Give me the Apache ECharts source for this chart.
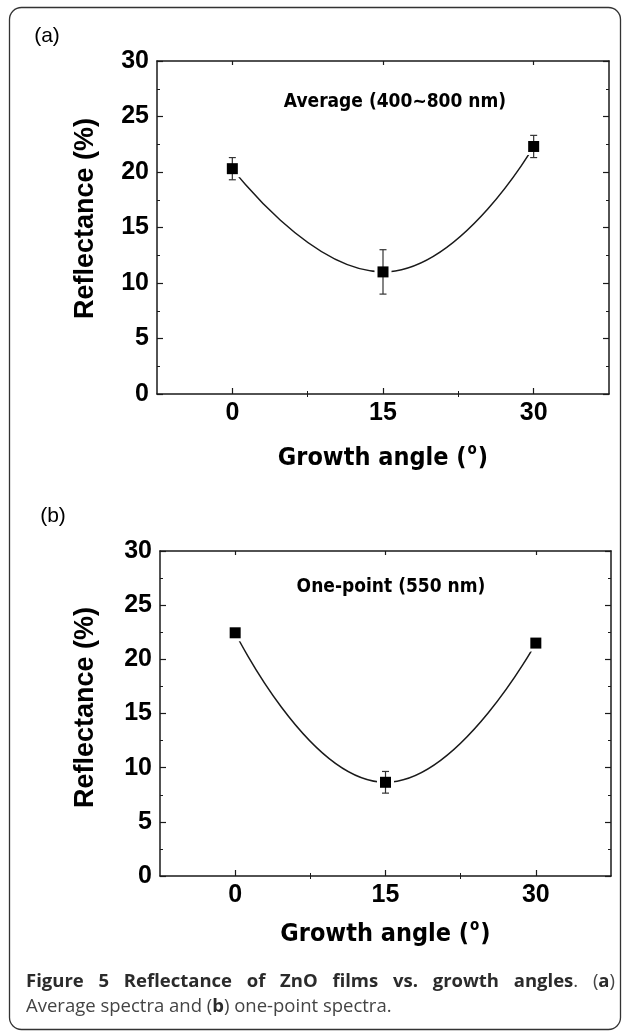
<!DOCTYPE html>
<html>
<head>
<meta charset="utf-8">
<title>Reflectance of ZnO films vs. growth angles</title>
<script src="https://cdn.jsdelivr.net/npm/echarts@6/dist/echarts.min.js"></script>
<style>
  html, body { margin: 0; padding: 0; background: #fff; }
  #chart { width: 625px; height: 1036px; }
</style>
</head>
<body>
<div id="chart"></div>
<script>
// data
const angles = [0, 15, 30];
const averageReflectance = [20.3, 11.0, 22.3];
const averageError = [1.0, 2.0, 1.0];
const onePointReflectance = [22.45, 8.65, 21.5];
const onePointError = [0.3, 1.0, 0.15];

const xMajorTicks = [0, 15, 30];
const xMinorTicks = [7.5, 22.5];
const panelLetters = ['(a)', '(b)'];
const panelNotes = ['Average (400~800 nm)', 'One-point (550 nm)'];

const tickFont = '"Liberation Sans", Arial, sans-serif';
const labelFont = '"DejaVu Sans Condensed", "DejaVu Sans", sans-serif';
const captionFont = '"Open Sans", "Noto Sans", sans-serif';
const ink = '#1a1a1a';

const grids = [
  { left: 157, top: 61, width: 452, height: 333 },
  { left: 160, top: 551, width: 451, height: 325 }
];
const layout = [
  { letter: [47, 36], note: [395, 102], xNameGap: 49, yNameGap: 58, yShift: 18 },
  { letter: [53, 516], note: [391, 587], xNameGap: 43, yNameGap: 61, yShift: 12 }
];

const lineStyle = { color: ink, width: 1.5 };

function makeXAxes(g) {
  const base = {
    type: 'value', gridIndex: g, min: -7.5, max: 37.5,
    splitLine: { show: false },
    axisLine: { show: true, onZero: false, lineStyle: lineStyle }
  };
  const out = [];
  ['bottom', 'top'].forEach(function (pos) {
    out.push(Object.assign({}, base, {
      position: pos,
      axisTick: { inside: true, length: pos === 'bottom' ? 6 : 4, customValues: xMajorTicks, lineStyle: { color: ink, width: 1.2 } },
      axisLabel: pos === 'bottom' ? {
        customValues: xMajorTicks, margin: 7, color: '#000',
        fontFamily: tickFont, fontWeight: 'bold', fontSize: 25
      } : { show: false },
      name: pos === 'bottom' ? 'Growth angle ({sup|o})' : '',
      nameLocation: 'middle',
      nameGap: layout[g].xNameGap,
      nameTextStyle: {
        fontFamily: labelFont, fontWeight: 'bold', fontSize: 25, color: '#000',
        rich: { sup: { fontFamily: labelFont, fontWeight: 'bold', fontSize: 15, color: '#000', padding: [0, 1, 16, 1] } }
      }
    }));
    out.push(Object.assign({}, base, {
      position: pos,
      axisLine: { show: false },
      axisTick: { inside: true, length: 3, customValues: xMinorTicks, lineStyle: { color: ink, width: 1 } },
      axisLabel: { show: false }
    }));
  });
  return out;
}

function makeYAxes(g) {
  return ['left', 'right'].map(function (pos) {
    return {
      type: 'value', gridIndex: g, position: pos, min: 0, max: 30, interval: 5,
      splitLine: { show: false },
      axisLine: { show: true, onZero: false, lineStyle: lineStyle },
      axisTick: { inside: true, length: 6, lineStyle: { color: ink, width: 1.2 } },
      minorTick: { show: true, splitNumber: 2, length: 3, lineStyle: { color: ink, width: 1 } },
      axisLabel: pos === 'left' ? {
        margin: 8, color: '#000', fontFamily: tickFont, fontWeight: 'bold', fontSize: 25
      } : { show: false },
      name: pos === 'left' ? 'Reflectance (%)' : '',
      nameLocation: 'middle',
      nameRotate: 90,
      nameGap: layout[g].yNameGap,
      nameTextStyle: {
        fontFamily: tickFont, fontWeight: 'bold', fontSize: 27, color: '#000',
        padding: [0, 0, 0, layout[g].yShift]
      }
    };
  });
}

function panelSeries(g, values, errors) {
  const xi = g * 4, yi = g * 2;
  const pts = angles.map(function (a, i) { return [a, values[i]]; });
  return [
    {
      // fitted curve; white squares leave the small gap round each marker
      type: 'line', xAxisIndex: xi, yAxisIndex: yi, data: pts,
      smooth: 0.5, symbol: 'rect', symbolSize: 17, showSymbol: true,
      itemStyle: { color: '#fff', opacity: 1 }, lineStyle: lineStyle, silent: true, z: 2
    },
    {
      type: 'custom', xAxisIndex: xi, yAxisIndex: yi, z: 3, silent: true,
      data: angles.map(function (a, i) { return [a, values[i] - errors[i], values[i] + errors[i]]; }),
      encode: { x: 0, y: [1, 2] },
      renderItem: function (params, api) {
        const lo = api.coord([api.value(0), api.value(1)]);
        const hi = api.coord([api.value(0), api.value(2)]);
        const cap = 3.5;
        const st = { stroke: '#333', lineWidth: 1.2 };
        return {
          type: 'group', children: [
            { type: 'line', shape: { x1: lo[0], y1: lo[1], x2: hi[0], y2: hi[1] }, style: st },
            { type: 'line', shape: { x1: lo[0] - cap, y1: lo[1], x2: lo[0] + cap, y2: lo[1] }, style: st },
            { type: 'line', shape: { x1: hi[0] - cap, y1: hi[1], x2: hi[0] + cap, y2: hi[1] }, style: st }
          ]
        };
      }
    },
    {
      type: 'scatter', xAxisIndex: xi, yAxisIndex: yi, data: pts,
      symbol: 'rect', symbolSize: 11, itemStyle: { color: '#000', opacity: 1 }, silent: true, z: 4
    }
  ];
}

// caption, line 1 is justified word by word
const captionLine1 = [
  [['Figure', 1]], [['5', 1]], [['Reflectance', 1]], [['of', 1]], [['ZnO', 1]],
  [['films', 1]], [['vs.', 1]], [['growth', 1]], [['angles', 1], ['.', 0]],
  [['(', 0], ['a', 1], [')', 0]]
];
const captionLine2 = [['Average spectra and (', 0], ['b', 1], [') one-point spectra.', 0]];
const captionSize = 18.5;

const measureCtx = document.createElement('canvas').getContext('2d');
function segWidth(seg) {
  measureCtx.font = (seg[1] ? 'bold ' : '') + captionSize + 'px ' + captionFont;
  return measureCtx.measureText(seg[0]).width;
}
function richOf(segs) {
  return segs.map(function (s) { return '{' + (s[1] ? 'b' : 'r') + '|' + s[0] + '}'; }).join('');
}
const captionRich = {
  b: { fontFamily: captionFont, fontWeight: 'bold', fontSize: captionSize, fill: '#2b2b2b' },
  r: { fontFamily: captionFont, fontWeight: 'normal', fontSize: captionSize, fill: '#444' }
};

const graphic = [{
  type: 'rect', shape: { x: 9.5, y: 7.5, width: 611, height: 1022, r: 12 },
  style: { fill: 'none', stroke: '#333', lineWidth: 1.3 }, silent: true
}];

[0, 1].forEach(function (g) {
  graphic.push({
    type: 'text', x: layout[g].letter[0], y: layout[g].letter[1],
    style: { text: panelLetters[g], font: 'normal 21px ' + tickFont, fill: '#000', align: 'center', verticalAlign: 'middle' }
  });
  graphic.push({
    type: 'text', x: layout[g].note[0], y: layout[g].note[1],
    style: { text: panelNotes[g], font: 'bold 19px ' + labelFont, fill: '#000', align: 'center', verticalAlign: 'middle' }
  });
});

(function () {
  const left = 26, right = 615;
  const widths = captionLine1.map(function (w) { return w.reduce(function (s, seg) { return s + segWidth(seg); }, 0); });
  const total = widths.reduce(function (a, b) { return a + b; }, 0);
  const gap = (right - left - total) / (captionLine1.length - 1);
  let x = left;
  captionLine1.forEach(function (w, i) {
    graphic.push({
      type: 'text', x: x, y: 982,
      style: { text: richOf(w), rich: captionRich, align: 'left', verticalAlign: 'middle' }
    });
    x += widths[i] + gap;
  });
  graphic.push({
    type: 'text', x: left, y: 1007,
    style: { text: richOf(captionLine2), rich: captionRich, align: 'left', verticalAlign: 'middle' }
  });
})();

const chart = echarts.init(document.getElementById('chart'));
chart.setOption({
  animation: false,
  backgroundColor: '#fff',
  grid: grids,
  xAxis: makeXAxes(0).concat(makeXAxes(1)),
  yAxis: makeYAxes(0).concat(makeYAxes(1)),
  series: panelSeries(0, averageReflectance, averageError)
    .concat(panelSeries(1, onePointReflectance, onePointError)),
  graphic: graphic
});
</script>
</body>
</html>
